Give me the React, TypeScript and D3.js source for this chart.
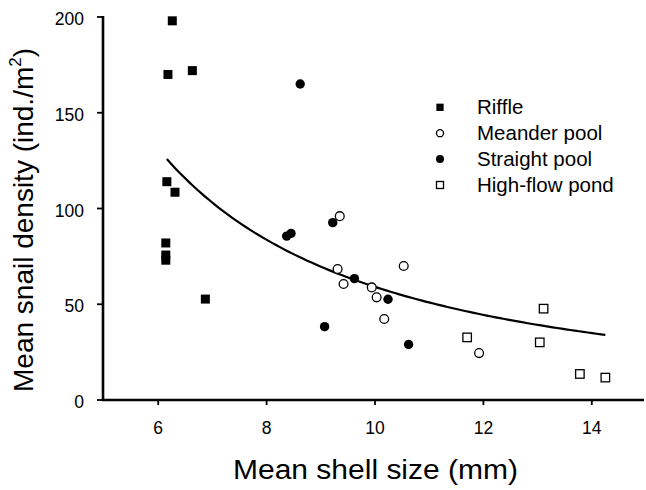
import React from "react";
import * as d3 from "d3";

const riffleX = [6.26, 6.18, 6.63, 6.16, 6.31, 6.14, 6.14, 6.14, 6.87];
const riffleY = [198, 170, 172, 114, 108.5, 82, 75.7, 73, 52.7];

const straightX = [8.62, 8.37, 8.45, 9.22, 9.62, 9.07, 10.24, 10.62];
const straightY = [165, 85.6, 87, 92.6, 63.4, 38.3, 52.6, 29];

const meanderX = [9.35, 9.31, 9.42, 9.94, 10.03, 10.17, 10.53, 11.92];
const meanderY = [96, 68.4, 60.6, 58.8, 53.6, 42.3, 70, 24.5];

const pondX = [11.7, 13.11, 13.04, 13.78, 14.25];
const pondY = [32.7, 47.7, 30.1, 13.6, 11.7];

// fitted power curve y = a * x^b
const fitA = 2145;
const fitB = -1.56;
const fitRange = [6.16, 14.25];

const xTicks = [6, 8, 10, 12, 14];
const yTicks = [0, 50, 100, 150, 200];

const legendLabels = ["Riffle", "Meander pool", "Straight pool", "High-flow pond"];

const FONT = "Liberation Sans, Arial, Helvetica, sans-serif";

export default function App() {
  const W = 646;
  const H = 490;
  const x = d3.scaleLinear().domain([5, 15]).range([104, 646]);
  const y = d3.scaleLinear().domain([0, 200]).range([400, 17]);

  const curveXs = d3.range(0, 101).map((i) => fitRange[0] + ((fitRange[1] - fitRange[0]) * i) / 100);
  const line = d3
    .line<number>()
    .x((d) => x(d))
    .y((d) => y(fitA * Math.pow(d, fitB)))
    .curve(d3.curveLinear);

  const sq = (cx: number, cy: number, s: number, filled: boolean, key: string) => (
    <rect
      key={key}
      x={cx - s / 2}
      y={cy - s / 2}
      width={s}
      height={s}
      fill={filled ? "#000" : "#fff"}
      stroke="#000"
      strokeWidth={filled ? 0 : 1.3}
    />
  );
  const circ = (cx: number, cy: number, r: number, filled: boolean, key: string) => (
    <circle key={key} cx={cx} cy={cy} r={r} fill={filled ? "#000" : "#fff"} stroke="#000" strokeWidth={filled ? 0 : 1.3} />
  );

  const legendY0 = 107.3;
  const legendStep = 25.9;
  const legendMarkX = 440;
  const legendTextX = 477;

  return (
    <svg
      width={W}
      height={H}
      style={{ position: "absolute", left: 0, top: 0, background: "#fff" }}
      fontFamily={FONT}
    >
      <rect x={0} y={0} width={W} height={H} fill="#fff" />
      {/* axes */}
      <line x1={102} x2={644} y1={400} y2={400} stroke="#000" strokeWidth={2.6} />
      <line x1={103} x2={103} y1={16} y2={401} stroke="#000" strokeWidth={2.6} />
      {xTicks.map((t) => (
        <g key={"xt" + t}>
          <line x1={x(t)} x2={x(t)} y1={400} y2={405} stroke="#000" strokeWidth={1.8} />
          <text x={x(t)} y={434} fontSize={17.5} textAnchor="middle" fill="#000">
            {t}
          </text>
        </g>
      ))}
      {yTicks.map((t) => (
        <g key={"yt" + t}>
          <line x1={97} x2={103} y1={y(t)} y2={y(t)} stroke="#000" strokeWidth={1.8} />
          <text x={84} y={y(t) + 8} fontSize={17.5} textAnchor="end" fill="#000">
            {t}
          </text>
        </g>
      ))}
      {/* titles */}
      <text x={233} y={479} fontSize={27} fill="#000" textLength={285} lengthAdjust="spacingAndGlyphs">
        Mean shell size (mm)
      </text>
      <text
        transform="translate(33,392) rotate(-90)"
        x={0}
        y={0}
        fontSize={28}
        fill="#000"
      >
        Mean snail density (ind./m
        <tspan fontSize={17} dy={-12}>2</tspan>
        <tspan dy={12}>)</tspan>
      </text>

      {/* fit curve */}
      <path d={line(curveXs) || ""} fill="none" stroke="#000" strokeWidth={2.2} />

      {/* points */}
      {riffleX.map((v, i) => sq(x(v), y(riffleY[i]), 9, true, "r" + i))}
      {straightX.map((v, i) => circ(x(v), y(straightY[i]), 4.7, true, "s" + i))}
      {meanderX.map((v, i) => circ(x(v), y(meanderY[i]), 4.4, false, "m" + i))}
      {pondX.map((v, i) => sq(x(v), y(pondY[i]), 8.5, false, "p" + i))}

      {/* legend */}
      {legendLabels.map((lab, i) => {
        const cy = legendY0 + i * legendStep;
        let mark;
        if (i === 0) mark = sq(legendMarkX, cy, 7.3, true, "lm" + i);
        else if (i === 1) mark = circ(legendMarkX, cy, 3.5, false, "lm" + i);
        else if (i === 2) mark = circ(legendMarkX, cy, 4, true, "lm" + i);
        else mark = sq(legendMarkX, cy, 7, false, "lm" + i);
        return (
          <g key={"lg" + i}>
            {mark}
            <text x={legendTextX} y={cy + 6.5} fontSize={20.5} fill="#000">
              {lab}
            </text>
          </g>
        );
      })}
    </svg>
  );
}
